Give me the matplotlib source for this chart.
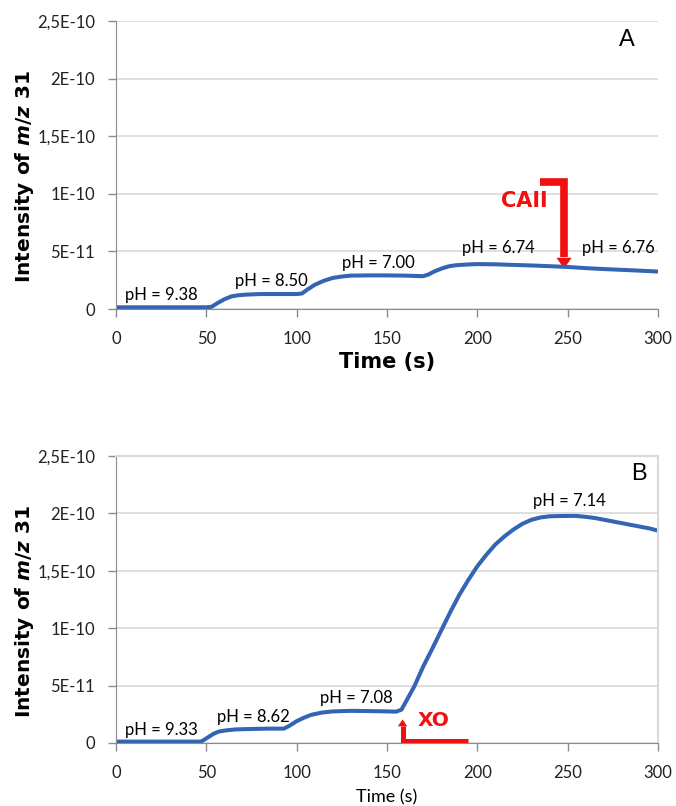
import numpy as np
import matplotlib
matplotlib.use('Agg')
import matplotlib.pyplot as plt

# Data (intensity in units of 1E-11)

time_a = [0, 10, 20, 30, 40, 50, 53, 56, 60, 64, 68, 72, 80, 90, 100, 103, 106, 110,
          115, 120, 125, 130, 140, 150, 160, 170, 173, 176, 180, 184, 188, 195, 200,
          210, 220, 230, 240, 250, 260, 270, 280, 290, 300]
int_a = [0.15, 0.15, 0.15, 0.15, 0.15, 0.15, 0.2, 0.5, 0.85, 1.1, 1.2, 1.25, 1.3, 1.3,
         1.3, 1.35, 1.7, 2.1, 2.45, 2.7, 2.82, 2.9, 2.92, 2.92, 2.9, 2.85, 3.0, 3.25,
         3.5, 3.7, 3.8, 3.87, 3.9, 3.88, 3.83, 3.78, 3.72, 3.65, 3.55, 3.47, 3.4, 3.33, 3.25]

time_b = [0, 10, 20, 30, 40, 47, 48, 51, 54, 57, 61, 66, 75, 85, 93, 96, 100, 104, 108,
          114, 120, 130, 140, 150, 155, 158, 161, 165, 170, 175, 180, 185, 190, 195, 200,
          205, 210, 215, 220, 225, 230, 235, 240, 245, 250, 255, 260, 265, 270, 275, 280,
          285, 290, 295, 300]
int_b = [0.12, 0.12, 0.12, 0.12, 0.12, 0.12, 0.2, 0.5, 0.8, 1.0, 1.1, 1.18, 1.22, 1.25,
         1.25, 1.5, 1.9, 2.2, 2.45, 2.65, 2.75, 2.8, 2.78, 2.75, 2.73, 2.9, 3.75, 4.9,
         6.65, 8.2, 9.8, 11.4, 12.9, 14.2, 15.4, 16.4, 17.3, 18.0, 18.6, 19.1, 19.45,
         19.65, 19.75, 19.77, 19.78, 19.78, 19.7, 19.6, 19.45, 19.3, 19.15, 19.0, 18.85,
         18.7, 18.5]

y_ticks = [0, 5e-11, 1e-10, 1.5e-10, 2e-10, 2.5e-10]
y_ticklabels = ['0', '5E-11', '1E-10', '1,5E-10', '2E-10', '2,5E-10']
x_ticks = [0, 50, 100, 150, 200, 250, 300]

# (x, y, text) of the pH labels
ph_a = [(5, 0.78e-11, 'pH = 9.38'), (66, 2.0e-11, 'pH = 8.50'), (125, 3.56e-11, 'pH = 7.00'),
        (191.5, 4.86e-11, 'pH = 6.74'), (258, 4.86e-11, 'pH = 6.76')]
ph_b = [(5, 0.7e-11, 'pH = 9.33'), (56, 1.86e-11, 'pH = 8.62'), (113, 3.48e-11, 'pH = 7.08'),
        (230.6, 2.064e-10, 'pH = 7.14')]

blue = '#3464b4'
red = '#f01010'
grid_col = '#d9d9d9'
axis_col = '#8c8c8c'

plt.rcParams['mathtext.fontset'] = 'custom'
plt.rcParams['mathtext.it'] = 'DejaVu Sans:italic:bold'
plt.rcParams['mathtext.rm'] = 'DejaVu Sans:bold'

fig = plt.figure(figsize=(6.76, 8.06), dpi=100)
ax1 = fig.add_axes([0.1716, 0.6166, 0.8018, 0.3573])
ax2 = fig.add_axes([0.1716, 0.0782, 0.8018, 0.3560])

for ax in [ax1, ax2]:
    ax.set_xlim(0, 300)
    ax.set_ylim(0, 2.5e-10)
    ax.set_yticks(y_ticks)
    ax.set_yticklabels(y_ticklabels, family='Lato', fontsize=12, color='#222222')
    ax.set_xticks(x_ticks)
    ax.set_xticklabels([str(t) for t in x_ticks], family='Lato', fontsize=12, color='#222222')
    ax.tick_params(axis='y', length=6, width=1, color=axis_col, pad=9)
    ax.tick_params(axis='x', length=6, width=1, color=axis_col, pad=10)
    ax.yaxis.grid(True, color=grid_col, linewidth=1.2)
    ax.set_axisbelow(True)
    ax.spines['left'].set_color(axis_col)
    ax.spines['bottom'].set_color(axis_col)
    ax.set_ylabel('Intensity of $\\mathit{m/z}$ 31', fontsize=14.5, fontweight='bold',
                  family='DejaVu Sans')
    ax.yaxis.set_label_coords(-0.168, 0.46)
    ax.yaxis.label.set_va('center')

ax1.spines['top'].set_visible(False)
ax1.spines['right'].set_visible(False)
ax2.spines['top'].set_color(grid_col)
ax2.spines['right'].set_color(grid_col)
ax2.spines['top'].set_linewidth(1.5)
ax2.spines['right'].set_linewidth(1.5)

# curves
ax1.plot(time_a, np.array(int_a) * 1e-11, color=blue, linewidth=2.9, solid_capstyle='butt')
ax2.plot(time_b, np.array(int_b) * 1e-11, color=blue, linewidth=2.9, solid_capstyle='butt')

for x, y, s in ph_a:
    ax1.text(x, y, s, family='Lato', fontsize=12, ha='left', va='baseline')
for x, y, s in ph_b:
    ax2.text(x, y, s, family='Lato', fontsize=12, ha='left', va='baseline')

ax1.text(282.6, 2.335e-10, 'A', family='Liberation Sans', fontsize=17, ha='center', va='center')
ax2.text(289.5, 2.343e-10, 'B', family='Liberation Sans', fontsize=17, ha='center', va='center')

ax1.set_xlabel('Time (s)', fontsize=15, fontweight='bold', family='DejaVu Sans')
ax1.xaxis.set_label_coords(0.5, -0.184)
ax1.xaxis.label.set_va('center')
ax2.set_xlabel('Time (s)', fontsize=13, family='Lato')
ax2.xaxis.set_label_coords(0.5, -0.188)
ax2.xaxis.label.set_va('center')

# red arrows: CAII addition (A) and XO addition (B)
ax1.plot([234.7, 248.0, 248.0], [1.105e-10, 1.105e-10, 4.5e-11], color=red, linewidth=5.5,
         solid_joinstyle='miter', solid_capstyle='butt')
ax1.fill([243.8, 252.2, 248.0], [4.45e-11, 4.45e-11, 3.5e-11], color=red, linewidth=0)
ax1.text(225.8, 9.375e-11, 'CAII', color=red, fontsize=15, fontweight='bold',
         family='DejaVu Sans', ha='center', va='center')

ax2.plot([194.8, 158.6, 158.6], [0.19e-11, 0.19e-11, 1.5e-11], color=red, linewidth=3.6,
         solid_joinstyle='miter', solid_capstyle='butt', clip_on=False)
ax2.fill([156.0, 161.2, 158.6], [1.45e-11, 1.45e-11, 2.05e-11], color=red, linewidth=0)
ax2.text(176.0, 1.96e-11, 'XO', color=red, fontsize=14.5, fontweight='bold',
         family='DejaVu Sans', ha='center', va='center')

fig.savefig('out.png', dpi=100)
